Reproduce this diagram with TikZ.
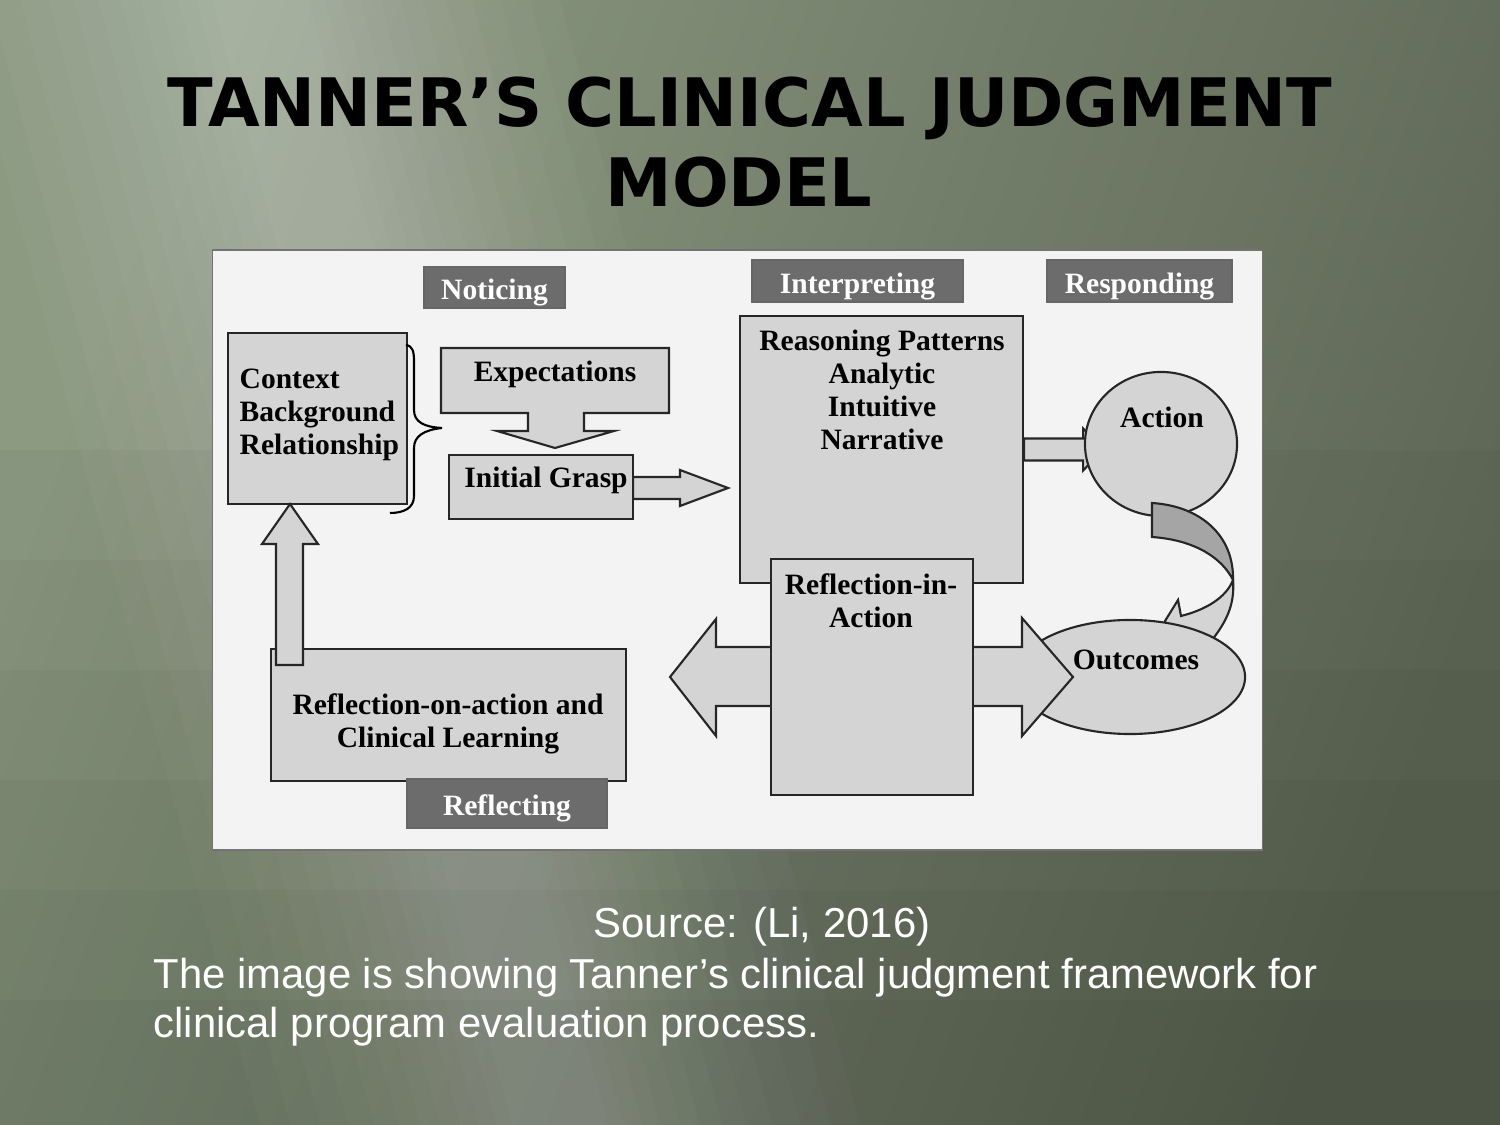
\documentclass[tikz,border=0pt]{standalone}
\usepackage{fontspec}
\setmainfont{Liberation Serif}
\newfontfamily\headfont{DejaVu Sans}
\newfontfamily\notefont{Liberation Sans}
\definecolor{bglight}{RGB}{140,154,130}
\definecolor{bgdark}{RGB}{94,103,86}
\definecolor{boxgray}{RGB}{212,212,212}
\definecolor{stagegray}{RGB}{108,108,108}
\definecolor{bandgray}{RGB}{165,165,165}
\definecolor{paper}{RGB}{243,243,243}
\usetikzlibrary{positioning,calc,shapes.geometric}

\begin{document}
\begin{tikzpicture}[x=0.01cm, y=-0.01cm,
  box/.style={rectangle, draw=black!85, line width=0.6pt, fill=boxgray, inner sep=0pt},
  stage/.style={rectangle, draw=black!60, line width=0.5pt, fill=stagegray, text=white,
                inner sep=0pt, text height=7pt, text depth=0pt,
                font=\fontsize{8.4}{9.4}\selectfont\bfseries},
  txt/.style={font=\fontsize{8.4}{9.4}\selectfont\bfseries, inner sep=0pt, align=center},
  oval/.style={ellipse, draw=black!85, line width=0.6pt, fill=boxgray, inner sep=0pt},
  blockarr/.style={draw=black!85, line width=0.6pt, fill=boxgray, line join=miter},
  headline/.style={font=\headfont\bfseries\fontsize{19}{22}\selectfont, inner sep=0pt},
  note/.style={font=\notefont\fontsize{11.9}{14}\selectfont, text=white, inner sep=0pt}
]
\useasboundingbox (0,0) rectangle (1500,1125);

% Slide background
\fill[left color=bglight, right color=bgdark, shading angle=70] (0,0) rectangle (1500,1125);
\foreach \w in {300,270,240,212,186,162,140,120,100,82,64,48}
  \fill[white, fill opacity=0.026] ({260-\w},0) -- ({260+\w},0) -- ({560+\w},1125) -- ({560-\w},1125) -- cycle;
\foreach \h in {450,560,670,780,890,1000}
  \fill[black, fill opacity=0.026] (0,\h) rectangle (1500,1125);

% Title
\node[headline, anchor=base] (title1) at (750,127) {TANNER’S CLINICAL JUDGMENT};
\node[headline, anchor=base] (title2) at (739,207) {MODEL};

% Scanned figure
\node[rectangle, draw=black!55, fill=paper, minimum width=10.49cm, minimum height=6cm,
      inner sep=0pt] (frame) at (737.5,550) {};

% Stage labels
\node[stage, minimum width=1.41cm, minimum height=0.41cm] (notice) at (494.5,287.5) {Noticing};
\node[stage, minimum width=2.11cm, minimum height=0.42cm] (interp) at (857.5,281) {Interpreting};
\node[stage, minimum width=1.85cm, minimum height=0.42cm] (respond) at (1139.5,281) {Responding};

% Noticing
\node[box, minimum width=1.79cm, minimum height=1.71cm] (ctx) at (317.5,418.5) {};
\node[txt, align=left, anchor=west] (ctxtxt) at (239,415) {Context\\Background\\Relationship};
\draw[line width=0.6pt] (406,345) .. controls (413,346) and (414,352) .. (414,362) -- (414,410)
  .. controls (414,422) and (424,427) .. (442,428) .. controls (424,430) and (414,436) .. (414,448)
  -- (414,496) .. controls (414,508) and (404,513) .. (390,513);

\draw[blockarr] (441,348) -- (669,348) -- (669,413) -- (584,413) -- (584,431) -- (614,431)
  -- (555,448) -- (497,431) -- (528,431) -- (528,413) -- (441,413) -- cycle;
\node[txt] (expect) at (555,374) {Expectations};

\draw[blockarr] (633,487) ++(0,-10) -- ++(47,0) -- ++(0,-7) -- ++(48,18) -- ++(-48,18)
  -- ++(0,-7) -- ++(-47,0) -- cycle;
\node[box, minimum width=1.84cm, minimum height=0.64cm] (grasp) at (541,487) {};
\node[txt] (grasptxt) at (546,480) {Initial Grasp};

% Interpreting
\node[box, minimum width=2.83cm, minimum height=2.67cm] (reason) at (881.5,449.5) {};
\node[txt] (reasontxt) at (882,390) {Reasoning Patterns\\Analytic\\Intuitive\\Narrative};

% Responding
\draw[blockarr] (reason.east) ++(0,-11) -- ++(59,0) -- ++(0,-10) -- ++(20,21) -- ++(-20,21)
  -- ++(0,-10) -- ++(-59,0) -- cycle;
\node[oval, minimum width=1.52cm, minimum height=1.44cm] (action) at (1161,444) {};
\node[txt] (actiontxt) at (1162,417) {Action};

\draw[blockarr, fill=bandgray] (1152,503) .. controls (1200,506) and (1234,535) .. (1233,580)
  .. controls (1222,558) and (1195,540) .. (1152,537) -- cycle;
\draw[blockarr] (1233,580) .. controls (1235,605) and (1226,622) .. (1212,640) -- (1172,645)
  -- (1165,621) -- (1178,600) -- (1181,616) .. controls (1205,610) and (1226,598) .. (1233,580) -- cycle;
\node[oval, minimum width=2.3cm, minimum height=1.14cm] (outcome) at (1130,677) {};
\node[txt] (outcometxt) at (1136,660) {Outcomes};

\draw[blockarr] (670,677) -- (716,619) -- (716,647) -- (1022,647) -- (1022,618) -- (1073,677)
  -- (1022,736) -- (1022,706) -- (716,706) -- (716,736) -- cycle;
\node[box, minimum width=2.02cm, minimum height=2.36cm] (rina) at (872,677) {};
\node[txt] (rinatxt) at (871,601) {Reflection-in-\\Action};

% Reflecting
\node[box, minimum width=3.55cm, minimum height=1.32cm] (ronb) at (448.5,715) {};
\node[txt] (ronbtxt) at (448,724) {Reflection-on-action and\\Clinical Learning};
\draw[blockarr] (276,665) -- (276,544) -- (262,544) -- (290,504) -- (318,544) -- (303,544)
  -- (303,665) -- cycle;
\node[stage, minimum width=2cm, minimum height=0.49cm] (reflect) at (507,803.5) {Reflecting};

% Caption
\node[note, anchor=base] (src) at (762,937) {Source: (Li, 2016)};
\node[note, anchor=base west] (desc1) at (153,988) {The image is showing Tanner’s clinical judgment framework for};
\node[note, anchor=base west] (desc2) at (153,1037) {clinical program evaluation process.};
\end{tikzpicture}
\end{document}
